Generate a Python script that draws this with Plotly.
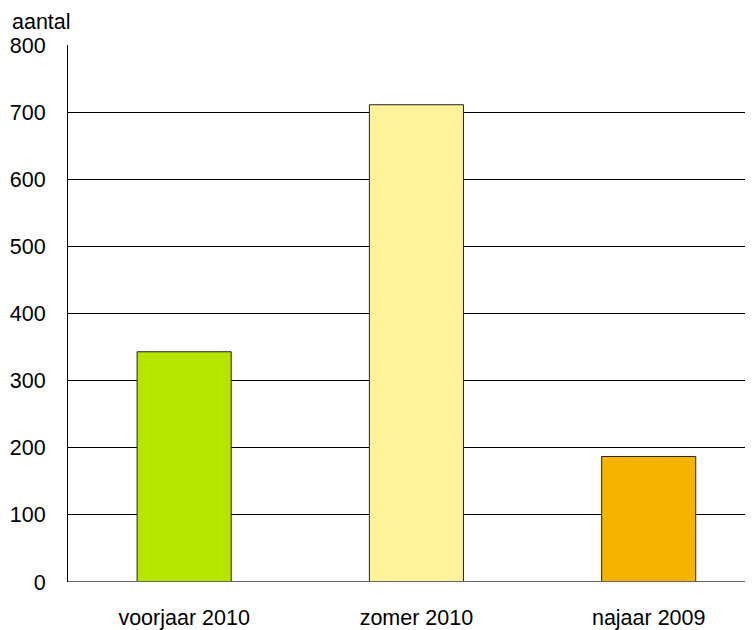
import plotly.graph_objects as go

categories = ["voorjaar 2010", "zomer 2010", "najaar 2009"]
values = [343, 711, 187]
colors = ["#B5E600", "#FFF29A", "#F5B400"]
y_ticks = [0, 100, 200, 300, 400, 500, 600, 700, 800]

fig = go.Figure(go.Bar(
    x=list(range(len(categories))), y=values,
    marker=dict(color=colors, line=dict(color="#222222", width=1)),
    width=0.405,
))

font = dict(family="Liberation Sans, Arial, sans-serif", size=21.5, color="#000000")
fig.update_layout(
    width=745, height=622,
    margin=dict(l=60, r=0, t=37, b=48),
    plot_bgcolor="white", paper_bgcolor="white",
    font=font,
    showlegend=False,
    xaxis=dict(
        tickmode="array", tickvals=list(range(len(categories))), ticktext=categories,
        range=[-0.5, 2.449], showgrid=False, zeroline=False, showline=False,
        ticks="", ticklabelstandoff=20, automargin=False,
    ),
    yaxis=dict(
        range=[0, 800], tickvals=y_ticks, showgrid=True, gridcolor="#000000", gridwidth=1,
        zeroline=False, showline=True, linecolor="#000000", linewidth=1,
        ticks="", ticklabelstandoff=17, automargin=False,
    ),
    annotations=[dict(text="aantal", x=0, xref="paper", xanchor="left", xshift=-58,
                      y=1, yref="paper", yanchor="bottom", yshift=9, showarrow=False,
                      font=font)],
    shapes=[dict(type="line", xref="paper", yref="y", x0=0, x1=1, y0=0, y1=0,
                 line=dict(color="#666666", width=2))],
)
fig.write_html("out.html")
